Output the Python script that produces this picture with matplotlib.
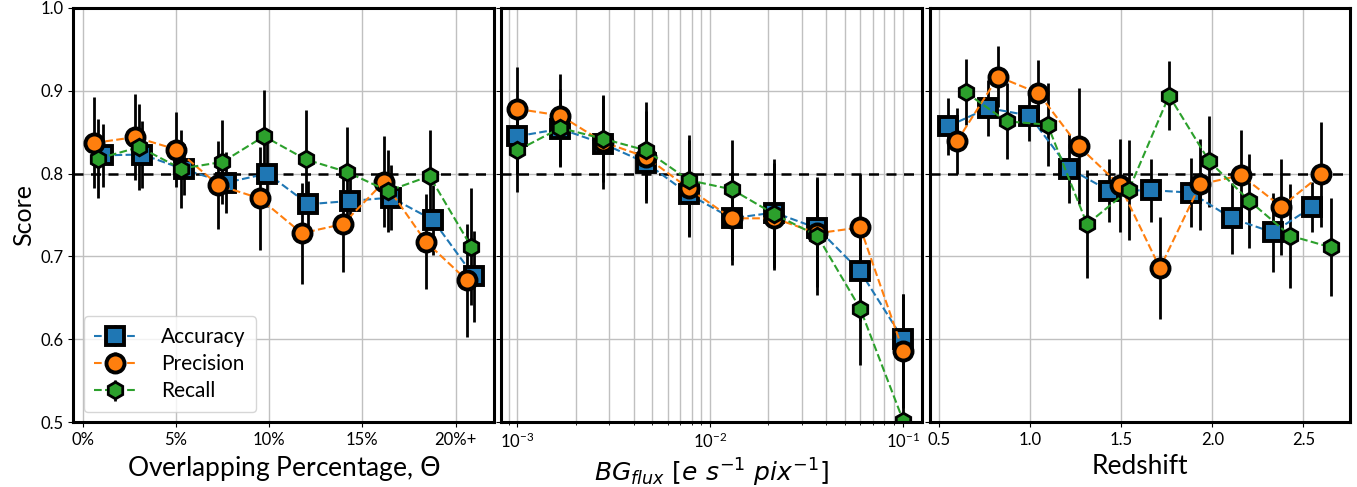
import matplotlib
matplotlib.use("Agg")
import matplotlib.pyplot as plt

plt.rcParams['font.family'] = ['Lato', 'DejaVu Sans']

# --- Panell 1: percentatge de solapament ---
ov_x_acc = [1.12, 3.21, 5.45, 7.68, 9.91, 12.10, 14.34, 16.55, 18.78, 20.98]
ov_x_pre = [0.63, 2.82, 5.03, 7.28, 9.50, 11.75, 13.95, 16.16, 18.39, 20.62]
ov_x_rec = [0.84, 3.04, 5.27, 7.50, 9.73, 11.97, 14.16, 16.37, 18.60, 20.83]
ov_acc = [0.822, 0.823, 0.805, 0.789, 0.800, 0.763, 0.767, 0.771, 0.744, 0.676]
ov_acc_err = [0.038, 0.040, 0.031, 0.037, 0.040, 0.028, 0.035, 0.039, 0.042, 0.055]
ov_pre = [0.837, 0.844, 0.829, 0.786, 0.770, 0.728, 0.739, 0.790, 0.718, 0.671]
ov_pre_err = [0.055, 0.052, 0.045, 0.053, 0.062, 0.061, 0.058, 0.055, 0.057, 0.068]
ov_rec = [0.818, 0.832, 0.806, 0.814, 0.845, 0.817, 0.802, 0.779, 0.797, 0.712]
ov_rec_err = [0.048, 0.052, 0.047, 0.051, 0.056, 0.060, 0.054, 0.050, 0.055, 0.071]
ov_ticks = [0, 5, 10, 15, 20]
ov_ticklabels = ["0%", "5%", "10%", "15%", "20%+"]

# --- Panell 2: flux de fons ---
bg_x = [0.001, 0.00167, 0.00278, 0.00464, 0.00774, 0.0129, 0.0215, 0.0359, 0.0599, 0.1]
bg_acc = [0.845, 0.854, 0.836, 0.813, 0.775, 0.746, 0.753, 0.734, 0.682, 0.600]
bg_acc_err = [0.045, 0.045, 0.045, 0.045, 0.050, 0.050, 0.060, 0.060, 0.060, 0.055]
bg_pre = [0.878, 0.870, 0.838, 0.820, 0.782, 0.746, 0.746, 0.728, 0.735, 0.586]
bg_pre_err = [0.050, 0.050, 0.057, 0.055, 0.058, 0.056, 0.060, 0.065, 0.065, 0.069]
bg_rec = [0.828, 0.855, 0.842, 0.828, 0.792, 0.781, 0.751, 0.725, 0.637, 0.502]
bg_rec_err = [0.050, 0.047, 0.052, 0.058, 0.055, 0.060, 0.067, 0.071, 0.068, 0.070]

# --- Panell 3: redshift ---
z_x_acc = [0.550, 0.770, 0.996, 1.215, 1.436, 1.662, 1.882, 2.107, 2.333, 2.550]
z_x_pre = [0.599, 0.825, 1.046, 1.267, 1.493, 1.713, 1.934, 2.158, 2.379, 2.599]
z_x_rec = [0.647, 0.871, 1.096, 1.313, 1.542, 1.763, 1.983, 2.204, 2.428, 2.651]
z_acc = [0.857, 0.879, 0.870, 0.806, 0.779, 0.780, 0.777, 0.746, 0.729, 0.760]
z_acc_err = [0.034, 0.034, 0.031, 0.042, 0.038, 0.038, 0.042, 0.043, 0.048, 0.030]
z_pre = [0.839, 0.917, 0.897, 0.833, 0.786, 0.686, 0.787, 0.798, 0.760, 0.799]
z_pre_err = [0.040, 0.037, 0.040, 0.070, 0.056, 0.062, 0.055, 0.055, 0.058, 0.063]
z_rec = [0.898, 0.863, 0.859, 0.739, 0.780, 0.894, 0.815, 0.767, 0.725, 0.711]
z_rec_err = [0.040, 0.046, 0.050, 0.065, 0.060, 0.042, 0.055, 0.057, 0.063, 0.059]

estil = dict(ls="--", lw=1.5, ecolor="black", elinewidth=2, mec="black")


def dibuixa(ax, xa, ya, ea, xp, yp, ep, xr, yr, er):
    ax.errorbar(xa, ya, yerr=ea, fmt="s", color="tab:blue", ms=13, mew=2.8,
                label="Accuracy", **estil)
    ax.errorbar(xp, yp, yerr=ep, fmt="o", color="tab:orange", ms=13, mew=2.8,
                label="Precision", **estil)
    ax.errorbar(xr, yr, yerr=er, fmt="h", color="tab:green", ms=12, mew=2,
                label="Recall", **estil)
    ax.axhline(0.8, color="black", ls=(0, (4, 3)), lw=1.8, zorder=2)
    ax.set_ylim(0.5, 1.0)
    ax.set_yticks([0.5, 0.6, 0.7, 0.8, 0.9, 1.0])
    for s in ax.spines.values():
        s.set_linewidth(2.2)
    ax.tick_params(labelsize=12)


fig, (ax1, ax2, ax3) = plt.subplots(1, 3, figsize=(13.57, 4.87), dpi=100, sharey=True)
fig.subplots_adjust(left=0.054, right=0.995, top=0.984, bottom=0.133, wspace=0.018)

# Grafic 1
dibuixa(ax1, ov_x_acc, ov_acc, ov_acc_err, ov_x_pre, ov_pre, ov_pre_err,
        ov_x_rec, ov_rec, ov_rec_err)
ax1.set_xlim(-0.5, 22.05)
ax1.set_xticks(ov_ticks)
ax1.set_xticklabels(ov_ticklabels)
ax1.grid(True, color="#c0c0c0", lw=1)
ax1.set_ylabel("Score", fontsize=18)
ax1.set_xlabel(r"Overlapping Percentage, $\Theta$", fontsize=19)
ax1.legend(loc="lower left", fontsize=15, handlelength=2, borderpad=0.5,
           labelspacing=0.35, handletextpad=1.2)

# Grafic 2
dibuixa(ax2, bg_x, bg_acc, bg_acc_err, bg_x, bg_pre, bg_pre_err,
        bg_x, bg_rec, bg_rec_err)
ax2.set_xscale("log")
ax2.set_xlim(10 ** -3.083, 10 ** -0.902)
ax2.grid(True, which="both", axis="x", color="#c0c0c0", lw=1)
ax2.grid(True, which="major", axis="y", color="#c0c0c0", lw=1)
ax2.set_xlabel(r"$BG_{flux}\ [e\ s^{-1}\ pix^{-1}]$", fontsize=18)

# Grafic 3
dibuixa(ax3, z_x_acc, z_acc, z_acc_err, z_x_pre, z_pre, z_pre_err,
        z_x_rec, z_rec, z_rec_err)
ax3.set_xlim(0.449, 2.757)
ax3.set_xticks([0.5, 1.0, 1.5, 2.0, 2.5])
ax3.grid(True, color="#c0c0c0", lw=1)
ax3.set_xlabel("Redshift", fontsize=19)

fig.savefig("out.png", dpi=100)
